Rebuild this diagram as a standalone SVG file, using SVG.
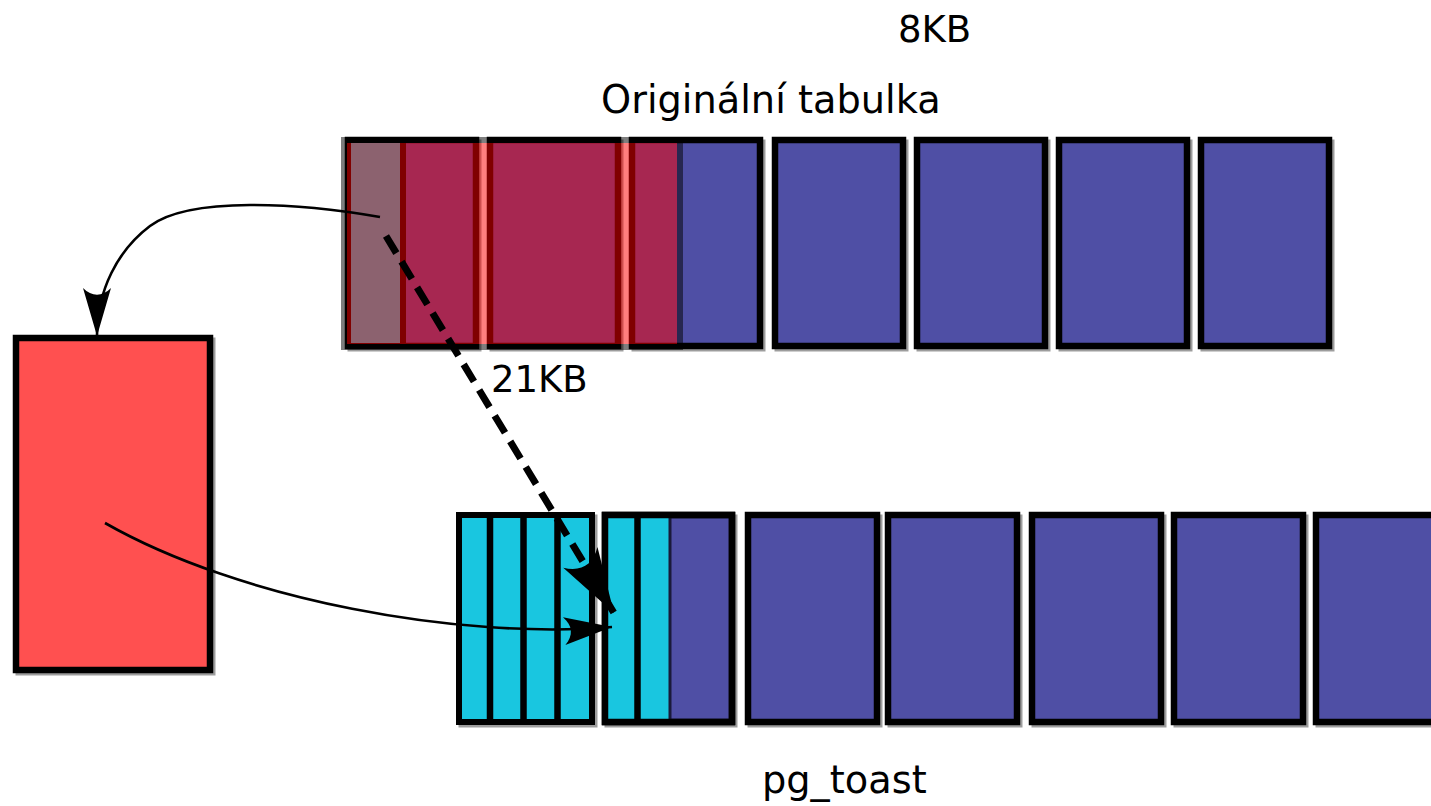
<svg xmlns="http://www.w3.org/2000/svg" width="1431" height="806" viewBox="0 0 1431 806">
  <style>
    .page { fill: #4f4fa5; stroke: #000; stroke-width: 6.5; }
    .tuple { fill: #19c6e0; stroke: #000; stroke-width: 6; }
    .shadow { fill: none; stroke: #9d9d9d; stroke-width: 6; }
    .divider { stroke: #000; stroke-width: 6.5; }
    .label { font-family: "DejaVu Sans", "Liberation Sans", sans-serif; font-size: 37px; fill: #000; }
    .wide { font-size: 38.3px; }
    .link { fill: none; stroke: #000; stroke-width: 2.6; }
    .dashed { fill: none; stroke: #000; stroke-width: 7; stroke-dasharray: 20 10; }
  </style>
  <defs>
    <marker id="head" markerUnits="userSpaceOnUse" viewBox="-50 -16 52 32" markerWidth="52" markerHeight="32" refX="0" refY="0" orient="auto" overflow="visible">
      <path d="M0,0 L-48,-14 C-39,-5 -39,5 -48,14 Z" fill="#000"/>
    </marker>
    <marker id="head-big" markerUnits="userSpaceOnUse" viewBox="-70 -22 72 44" markerWidth="72" markerHeight="44" refX="0" refY="0" orient="auto" overflow="visible">
      <path d="M0,0 L-65,-20 C-52,-7 -52,7 -65,20 Z" fill="#000"/>
    </marker>
  </defs>

  <rect width="1431" height="806" fill="#fff"/>

  <!-- labels -->
  <text class="label" x="898" y="42">8KB</text>
  <text class="label wide" x="601" y="113">Originální tabulka</text>
  <text class="label" x="491" y="392">21KB</text>
  <text class="label wide" x="762" y="793">pg_toast</text>

  <!-- original table: 8KB pages -->
  <g id="table">
    <g id="page-1"><rect class="shadow" x="350.5" y="142.5" width="128" height="206"/><rect class="page" x="348" y="140" width="128" height="206"/></g>
    <g id="page-2"><rect class="shadow" x="492.5" y="142.5" width="128" height="206"/><rect class="page" x="490" y="140" width="128" height="206"/></g>
    <g id="page-3"><rect class="shadow" x="634.5" y="142.5" width="128" height="206"/><rect class="page" x="632" y="140" width="128" height="206"/></g>
    <g id="page-4"><rect class="shadow" x="777.5" y="142.5" width="128" height="206"/><rect class="page" x="775" y="140" width="128" height="206"/></g>
    <g id="page-5"><rect class="shadow" x="919.5" y="142.5" width="128" height="206"/><rect class="page" x="917" y="140" width="128" height="206"/></g>
    <g id="page-6"><rect class="shadow" x="1061.5" y="142.5" width="128" height="206"/><rect class="page" x="1059" y="140" width="128" height="206"/></g>
    <g id="page-7"><rect class="shadow" x="1203.5" y="142.5" width="128" height="206"/><rect class="page" x="1201" y="140" width="128" height="206"/></g>
    <!-- toast pointer stored in the row -->
    <g id="toast-pointer"><rect class="tuple" x="348" y="140" width="55" height="206" stroke-width="5"/></g>
    <!-- oversized 21KB row, translucent -->
    <g id="big-row" opacity="0.5">
      <rect x="344" y="140" width="336" height="207" fill="#ff0000" stroke="#000" stroke-width="6"/>
    </g>
  </g>

  <!-- detached value -->
  <g id="value">
    <rect class="shadow" x="18.5" y="340.5" width="194" height="332"/>
    <rect x="16" y="338" width="194" height="332" fill="#ff5050" stroke="#000" stroke-width="6.5"/>
  </g>

  <!-- pg_toast pages -->
  <g id="toast">
    <g id="toast-page-1">
      <rect class="shadow" x="461.5" y="517.5" width="133" height="207"/>
      <rect class="tuple" x="459" y="515" width="133" height="207" stroke-width="6.5"/>
      <line class="divider" x1="490" y1="515" x2="490" y2="722"/>
      <line class="divider" x1="523.5" y1="515" x2="523.5" y2="722"/>
      <line class="divider" x1="557.5" y1="515" x2="557.5" y2="722"/>
    </g>
    <g id="toast-page-2">
      <rect class="shadow" x="607.5" y="517.5" width="127" height="207"/>
      <rect class="page" x="605" y="515" width="127" height="207"/>
      <rect x="605" y="515" width="65" height="207" fill="#19c6e0"/>
      <line x1="670" y1="518" x2="670" y2="719" stroke="#1a1a3a" stroke-width="3"/>
      <line class="divider" x1="637.5" y1="515" x2="637.5" y2="722"/>
      <rect x="605" y="515" width="127" height="207" fill="none" stroke="#000" stroke-width="6.5"/>
    </g>
    <g id="toast-page-3"><rect class="shadow" x="750.5" y="517.5" width="129" height="207"/><rect class="page" x="748" y="515" width="129" height="207"/></g>
    <g id="toast-page-4"><rect class="shadow" x="890.5" y="517.5" width="129" height="207"/><rect class="page" x="888" y="515" width="129" height="207"/></g>
    <g id="toast-page-5"><rect class="shadow" x="1034.5" y="517.5" width="129" height="207"/><rect class="page" x="1032" y="515" width="129" height="207"/></g>
    <g id="toast-page-6"><rect class="shadow" x="1176.5" y="517.5" width="129" height="207"/><rect class="page" x="1174" y="515" width="129" height="207"/></g>
    <g id="toast-page-7"><rect class="shadow" x="1318.5" y="517.5" width="129" height="207"/><rect class="page" x="1316" y="515" width="129" height="207"/></g>
  </g>

  <!-- connectors -->
  <g id="connectors">
    <path class="link" d="M380,217 C300,203 190,196 150,226 C118,250 97,290 97,336" marker-end="url(#head)"/>
    <path class="link" d="M105,523 C240,600 460,640 612,627" marker-end="url(#head)"/>
    <path class="dashed" d="M386,236 L614,613" marker-end="url(#head-big)"/>
  </g>
</svg>
